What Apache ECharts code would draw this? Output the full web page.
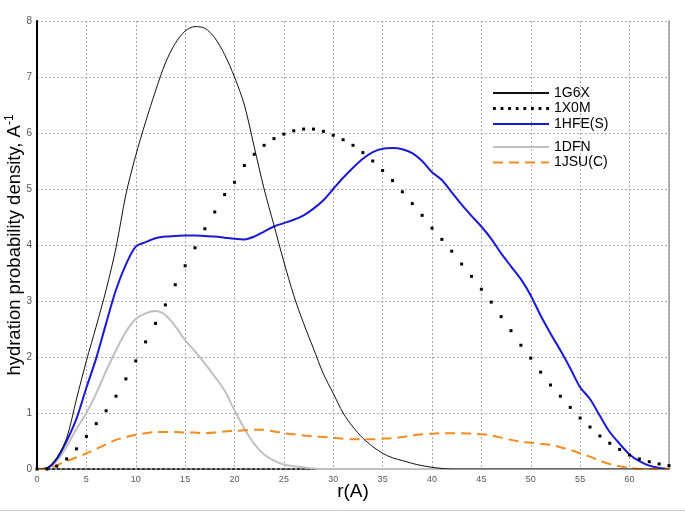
<!DOCTYPE html>
<html>
<head>
<meta charset="utf-8">
<script src="https://cdn.jsdelivr.net/npm/echarts@6/dist/echarts.min.js"></script>
<style>
html,body{margin:0;padding:0;background:#fff;}
#c{width:685px;height:512px;}
</style>
</head>
<body>
<div id="c"></div>
<script>
const r = [0,1,2,3,4,5,6,7,8,9,10,11,12,13,14,15,16,17,18,19,20,21,22,23,24,25,26,27,28,29,30,31,32,33,34,35,36,37,38,39,40,41,42,43,44,45,46,47,48,49,50,51,52,53,54,55,56,57,58,59,60,61,62,63,64];

const s1G6X = [0,0.02,0.2,0.55,1.25,1.93,2.55,3.2,3.95,4.9,5.6,6.2,6.75,7.25,7.6,7.82,7.9,7.87,7.7,7.4,7.0,6.5,5.75,5.0,4.35,3.7,3.1,2.6,2.15,1.7,1.35,1.0,0.75,0.55,0.4,0.28,0.2,0.15,0.1,0.06,0.03,0.01,0,0,0,0,0,0,0,0,0,0,0,0,0,0,0,0,0,0,0,0,0,0,0];

const s1X0M = [0,0,0.05,0.18,0.36,0.58,0.81,1.04,1.3,1.61,1.93,2.27,2.6,2.93,3.29,3.63,3.95,4.29,4.59,4.9,5.12,5.42,5.62,5.78,5.9,5.98,6.04,6.07,6.07,6.03,5.96,5.88,5.78,5.65,5.5,5.33,5.15,4.95,4.74,4.53,4.3,4.1,3.89,3.66,3.44,3.21,2.98,2.72,2.47,2.21,1.98,1.73,1.5,1.3,1.1,0.91,0.75,0.59,0.46,0.35,0.25,0.18,0.13,0.09,0.06];

const s1HFE = [0,0.01,0.18,0.5,0.9,1.45,1.98,2.6,3.2,3.65,3.97,4.05,4.12,4.15,4.16,4.17,4.17,4.16,4.15,4.13,4.11,4.1,4.15,4.24,4.33,4.39,4.45,4.53,4.65,4.8,5.0,5.2,5.38,5.54,5.66,5.72,5.73,5.71,5.64,5.5,5.3,5.16,4.94,4.72,4.52,4.33,4.11,3.85,3.62,3.39,3.1,2.74,2.42,2.12,1.8,1.46,1.25,0.95,0.66,0.45,0.26,0.14,0.06,0.02,0];

const s1DFN = [0,0.02,0.14,0.4,0.72,1.0,1.35,1.75,2.12,2.45,2.68,2.78,2.82,2.75,2.55,2.3,2.1,1.88,1.65,1.4,1.05,0.72,0.45,0.26,0.15,0.08,0.05,0.03,0.01,0,0,0,0,0,0,0,0,0,0,0,0,0,0,0,0,0,0,0,0,0,0,0,0,0,0,0,0,0,0,0,0,0,0,0,0];

const s1JSU = [0,0,0.07,0.14,0.21,0.28,0.36,0.44,0.52,0.57,0.61,0.64,0.66,0.66,0.66,0.65,0.65,0.64,0.65,0.67,0.68,0.69,0.7,0.7,0.67,0.64,0.62,0.6,0.58,0.57,0.56,0.54,0.53,0.53,0.53,0.54,0.55,0.57,0.6,0.62,0.63,0.64,0.64,0.64,0.63,0.62,0.6,0.56,0.52,0.49,0.47,0.45,0.43,0.39,0.34,0.28,0.22,0.15,0.09,0.05,0.02,0,0,0,0];

const seriesNames = ['1G6X','1X0M','1HFE(S)','1DFN','1JSU(C)'];

function pairs(vals){ return r.map((x,i)=>[x, vals[i]]); }

// dotted legend icon (8 dots)
let dotPath = 'path://';
for (let i = 0; i < 8; i++) {
  const x0 = (i * 7.63).toFixed(2);
  dotPath += 'M' + x0 + ',0h2.8v2.8h-2.8z';
}

const chart = echarts.init(document.getElementById('c'), null, {renderer:'canvas'});
const fontFam = '"Liberation Sans", Arial, sans-serif';

const legendCommon = {
  orient: 'vertical', left: 487,
  itemWidth: 56, itemHeight: 14, itemGap: 1.5,
  itemStyle: {opacity: 0},
  textStyle: {fontFamily: fontFam, fontSize: 14, color: '#000', lineHeight: 14}
};

chart.setOption({
  animation: false,
  backgroundColor: '#fff',
  grid: {left: 37, right: 16, top: 21, bottom: 43, outerBoundsMode: 'none', containLabel: false},
  legend: [
    Object.assign({}, legendCommon, {
      top: 81,
      data: [seriesNames[0], {name: seriesNames[1], icon: dotPath, itemStyle: {opacity: 1, color: '#000'}}, seriesNames[2]]
    }),
    Object.assign({}, legendCommon, {
      top: 135,
      data: [seriesNames[3], seriesNames[4]]
    })
  ],
  xAxis: {
    type: 'value', min: 0, max: 64, interval: 5,
    name: 'r(A)', nameLocation: 'middle', nameGap: 13, nameMoveOverlap: false,
    nameTextStyle: {fontFamily: fontFam, fontSize: 19, color: '#000'},
    axisLine: {show: true, lineStyle: {color: '#000', width: 1.5, type: [3, 2]}},
    axisTick: {show: false},
    axisLabel: {fontFamily: fontFam, fontSize: 9, color: '#555', margin: 6, showMaxLabel: false},
    splitLine: {show: true, lineStyle: {color: '#aaa', width: 1, type: [2, 2]}}
  },
  yAxis: [
    {
      type: 'value', min: 0, max: 8, interval: 1,
      name: 'hydration probability density, A{sup|-1}',
      nameLocation: 'middle', nameGap: 12, nameRotate: 90, nameMoveOverlap: false,
      nameTextStyle: {fontFamily: fontFam, fontSize: 18.5, color: '#000',
        rich: {sup: {fontFamily: fontFam, fontSize: 12, color: '#000', verticalAlign: 'top', padding: [0,0,9,0]}}},
      axisLine: {show: true, lineStyle: {color: '#000', width: 2}},
      axisTick: {show: false},
      axisLabel: {fontFamily: fontFam, fontSize: 10, color: '#555', margin: 5},
      splitLine: {show: true, lineStyle: {color: '#aaa', width: 1, type: [2, 2]}}
    },
    {
      type: 'value', min: 0, max: 8, position: 'right',
      axisLine: {show: true, onZero: false, lineStyle: {color: '#999', width: 1.5}},
      axisTick: {show: false}, axisLabel: {show: false}, splitLine: {show: false}
    }
  ],
  series: [
    {
      name: '1G6X', type: 'line', data: pairs(s1G6X), smooth: 0.3,
      showSymbol: false, symbol: 'none',
      lineStyle: {color: '#111', width: 1}, itemStyle: {color: '#111'}, z: 5
    },
    {
      name: '1X0M', type: 'line', data: pairs(s1X0M),
      symbol: 'rect', symbolSize: 3, showSymbol: true, showAllSymbol: true,
      lineStyle: {width: 0, opacity: 0}, itemStyle: {color: '#000'}, z: 6
    },
    {
      name: '1HFE(S)', type: 'line', data: pairs(s1HFE), smooth: 0.3,
      showSymbol: false, symbol: 'none',
      lineStyle: {color: '#1a1ad6', width: 2}, itemStyle: {color: '#1a1ad6'}, z: 4
    },
    {
      name: '1DFN', type: 'line', data: pairs(s1DFN), smooth: 0.3,
      showSymbol: false, symbol: 'none',
      lineStyle: {color: '#c0c0c0', width: 2}, itemStyle: {color: '#c0c0c0'}, z: 3
    },
    {
      name: '1JSU(C)', type: 'line', data: pairs(s1JSU), smooth: 0.3,
      showSymbol: false, symbol: 'none',
      lineStyle: {color: '#f58a1f', width: 2, type: [10, 6]}, itemStyle: {color: '#f58a1f'}, z: 4
    }
  ],
  graphic: [
    {type: 'line', shape: {x1: 0, y1: 510.5, x2: 685, y2: 510.5}, style: {stroke: '#ccc', lineWidth: 1}, silent: true}
  ]
});
</script>
</body>
</html>
